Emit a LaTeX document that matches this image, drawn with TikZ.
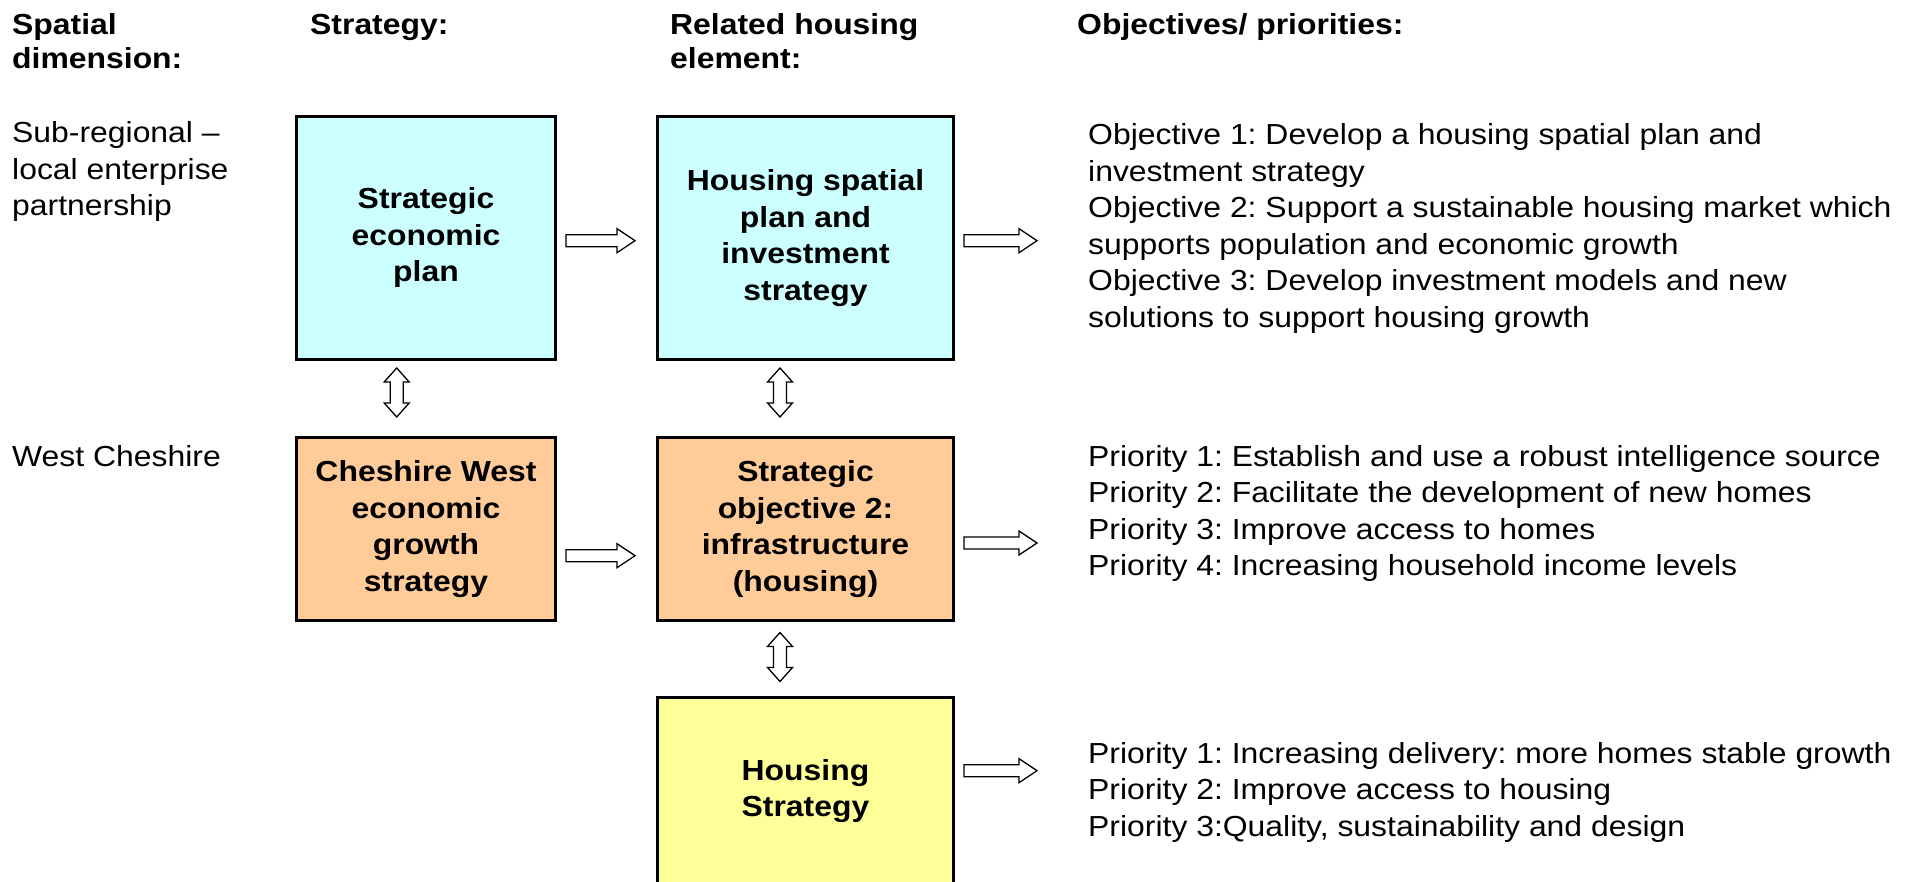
\documentclass[tikz,border=0pt]{standalone}
\usepackage{fontspec}
\setmainfont{Liberation Sans}[FakeStretch=1.1]
\usetikzlibrary{calc}
\definecolor{boxcyan}{HTML}{CCFFFF}
\definecolor{boxorange}{HTML}{FFCC99}
\definecolor{boxyellow}{HTML}{FFFF99}
\frenchspacing
\newcommand\txtfont{\fontsize{29}{36.5}\selectfont}
\newcommand\linestack[2]{\vtop{\baselineskip=#1pt\lineskiplimit=-100pt\relax #2}}
\tikzset{
  blockarrow/.style={draw=black, fill=white, line width=1.3pt, line join=miter},
  rarrshort/.pic={\path[blockarrow] (0,-6) -- (51,-6) -- (51,-12) -- (69,0) -- (51,12) -- (51,6) -- (0,6) -- cycle;},
  rarrlong/.pic={\path[blockarrow] (0,-6) -- (55,-6) -- (55,-12) -- (73,0) -- (55,12) -- (55,6) -- (0,6) -- cycle;},
  vdarr/.pic={\path[blockarrow] (0,-24.5) -- (12.5,-10.5) -- (6.5,-10.5) -- (6.5,10.5) -- (12.5,10.5) -- (0,24.5) -- (-12.5,10.5) -- (-6.5,10.5) -- (-6.5,-10.5) -- (-12.5,-10.5) -- cycle;},
  box/.style={draw=black, line width=2.7pt, align=center, font=\txtfont\bfseries, inner sep=0pt},
  plain/.style={anchor=base west, inner sep=0pt, font=\txtfont},
  hdr/.style={anchor=base west, inner sep=0pt, font=\txtfont\bfseries},
}
\begin{document}
\begin{tikzpicture}[x=1pt,y=-1pt]
\useasboundingbox (0,0) rectangle (1917,882);
% headers
\node[hdr] (h1) at (12,35) {\linestack{34}{\hbox{Spatial}\hbox{dimension:}}};
\node[hdr] (h2) at (310,35) {\linestack{34}{\hbox{Strategy:}}};
\node[hdr] (h3) at (670,35) {\linestack{34}{\hbox{Related housing}\hbox{element:}}};
\node[hdr] (h4) at (1077,35) {\linestack{34}{\hbox{Objectives/ priorities:}}};
% left labels
\node[plain] (l1) at (12,143) {\linestack{36.5}{\hbox{Sub-regional –}\hbox{local enterprise}\hbox{partnership}}};
\node[plain] (l2) at (12,466.7) {\linestack{36.5}{\hbox{West Cheshire}}};
% boxes
\node[box, fill=boxcyan, minimum width=259.3pt, minimum height=243.3pt] (b1) at (426,238) {Strategic\\economic\\plan};
\node[box, fill=boxcyan, minimum width=296.3pt, minimum height=243.3pt] (b2) at (805.5,238) {Housing spatial\\plan and\\investment\\strategy};
\node[box, fill=boxorange, minimum width=259.3pt, minimum height=183.3pt] (b3) at (426,529) {Cheshire West\\economic\\growth\\strategy};
\node[box, fill=boxorange, minimum width=296.3pt, minimum height=183.3pt] (b4) at (805.5,529) {Strategic\\objective 2:\\infrastructure\\(housing)};
\node[box, fill=boxyellow, minimum width=296.3pt, minimum height=187.3pt] (b5) at (805.5,791) {Housing\\Strategy};
% objective / priority texts
\node[plain] (t1) at (1088,145) {\linestack{36.5}{%
  \hbox{Objective 1: Develop a housing spatial plan and}%
  \hbox{investment strategy}%
  \hbox{Objective 2: Support a sustainable housing market which}%
  \hbox{supports population and economic growth}%
  \hbox{Objective 3: Develop investment models and new}%
  \hbox{solutions to support housing growth}}};
\node[plain] (t2) at (1088,466) {\linestack{36.5}{%
  \hbox{Priority 1: Establish and use a robust intelligence source}%
  \hbox{Priority 2: Facilitate the development of new homes}%
  \hbox{Priority 3: Improve access to homes}%
  \hbox{Priority 4: Increasing household income levels}}};
\node[plain] (t3) at (1088,763.3) {\linestack{36.5}{%
  \hbox{Priority 1: Increasing delivery: more homes stable growth}%
  \hbox{Priority 2: Improve access to housing}%
  \hbox{Priority 3:Quality, sustainability and design}}};
% block arrows
\pic at ($(b1.east)+(9,2.7)$) {rarrshort};
\pic at ($(b3.east)+(9,26.7)$) {rarrshort};
\pic at ($(b2.east)+(9,2.7)$) {rarrlong};
\pic at ($(b4.east)+(9,14)$) {rarrlong};
\pic at ($(b5.east)+(9,-20.3)$) {rarrlong};
\pic at ($(b1.south)+(-29.3,31.5)$) {vdarr};
\pic at ($(b2.south)+(-25.5,31.5)$) {vdarr};
\pic at ($(b4.south)+(-25.5,35)$) {vdarr};
\end{tikzpicture}
\end{document}
